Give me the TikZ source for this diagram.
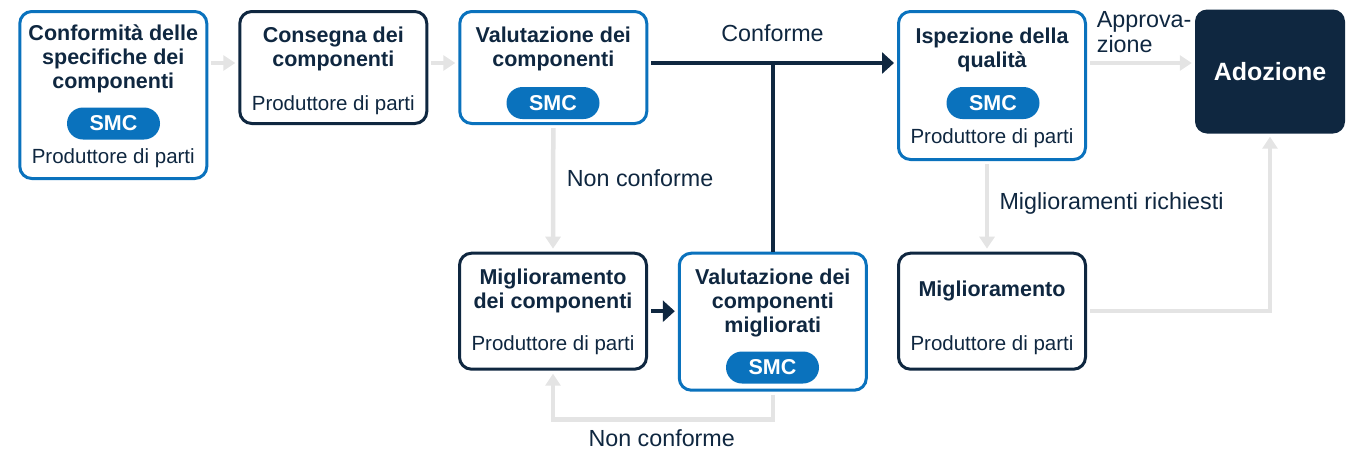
\documentclass[tikz,border=0pt]{standalone}
\usepackage{fontspec}
\setmainfont{Liberation Sans}
\usetikzlibrary{arrows.meta}

\definecolor{navy}{HTML}{0F2740}
\definecolor{smcblue}{HTML}{0A72BD}
\definecolor{lite}{HTML}{E4E4E4}

\tikzstyle{box} = [draw=navy, line width=3pt, rounded corners=12pt, minimum width=187pt, inner sep=0pt]
\tikzstyle{bluebox} = [box, draw=smcblue]
\tikzstyle{pill} = [fill=smcblue, rounded corners=16pt, minimum width=93pt, minimum height=32pt, inner sep=0pt, text=white, font=\bfseries\fontsize{21.5}{24}\selectfont]
\tikzstyle{ttl} = [align=center, inner sep=0pt, text=navy, font=\bfseries\fontsize{21.5}{24}\selectfont]
\tikzstyle{sub} = [inner sep=0pt, text=navy, font=\fontsize{20.5}{24}\selectfont]
\tikzstyle{lbl} = [inner sep=0pt, text=navy, font=\fontsize{23.3}{25}\selectfont]
\tikzstyle{litearr} = [draw=lite, line width=4.5pt, -{Triangle[width=15pt,length=12pt]}, shorten <=3pt, shorten >=3pt]
\tikzstyle{darkarr} = [draw=navy, line width=4.5pt, -{Triangle[width=21pt,length=12pt]}, shorten <=3pt, shorten >=3pt]

\begin{document}
\begin{tikzpicture}[x=1pt, y=-1pt]
		\useasboundingbox (0,0) rectangle (1346,451);
		\coordinate (row) at (0,63);

		\node[bluebox, minimum height=167pt] (b1) at (113.3,95) {};
		\node[box, minimum height=112pt] (b2) at (333.3,67.5) {};
		\node[bluebox, minimum height=112pt] (b3) at (553.3,67.5) {};
		\node[bluebox, minimum height=148pt] (b4) at (992,85.5) {};
		\node[fill=navy, rounded corners=12pt, minimum width=150pt, minimum height=124pt, text=white, font=\bfseries\fontsize{25}{28}\selectfont] (b5) at (1270,71.5) {Adozione};
		\node[box, minimum height=116pt] (b6) at (553,311.2) {};
		\node[bluebox, minimum height=137pt] (b7) at (772.8,321.7) {};
		\node[box, minimum height=116pt] (b8) at (992,311.2) {};

		\node[ttl] (t1) at (113.3,58.5) {Conformità delle\\specifiche dei\\componenti};
		\node[pill] (s1) at (113.5,123.5) {SMC};
		\node[sub] (p1) at (113.3,158) {Produttore di parti};
		\node[ttl] (t2) at (333.3,48.5) {Consegna dei\\componenti};
		\node[sub] (p2) at (333.3,105) {Produttore di parti};
		\node[ttl] (t3) at (553.3,48.5) {Valutazione dei\\componenti};
		\node[pill] (s3) at (553,103) {SMC};
		\node[ttl] (t4) at (992,49.5) {Ispezione della\\qualità};
		\node[pill] (s4) at (993,103) {SMC};
		\node[sub] (p4) at (992,138) {Produttore di parti};
		\node[ttl] (t6) at (553,290.5) {Miglioramento\\dei componenti};
		\node[sub] (p6) at (553,345) {Produttore di parti};
		\node[ttl] (t7) at (772.8,302.5) {Valutazione dei\\componenti\\migliorati};
		\node[pill] (s7) at (772.5,367.5) {SMC};
		\node[ttl] (t8) at (992,291) {Miglioramento};
		\node[sub] (p8) at (992,345) {Produttore di parti};

		\draw[litearr] (b1.east |- row) -- (b2.west |- row);
		\draw[litearr] (b2.east |- row) -- (b3.west |- row);
		\draw[darkarr] (b3.east |- row) -- (b4.west |- row);
		\draw[navy, line width=4.5pt] (b7.north) -- (b7.north |- row);
		\draw[litearr] (b3.south) -- (b6.north);
		\draw[darkarr] (b6.east) -- (b6.east -| b7.west);
		\draw[litearr] (b7.south) -- ++(0,28) -| (b6.south);
		\draw[litearr] (b4.east |- row) -- (b5.west |- row);
		\draw[litearr] ([xshift=-5pt]b4.south) -- ([xshift=-5pt]b8.north);
		\draw[litearr] (b8.east) -| (b5.south);

		\node[lbl] (c1) at (772.5,33.3) {Conforme};
		\node[lbl, anchor=west] (n1) at (566.7,178.3) {Non conforme};
		\node[lbl] (n2) at (661.7,438.2) {Non conforme};
		\node[lbl, anchor=west, align=left] (ap) at (1096.7,32.5) {Approva-\\zione};
		\node[lbl, anchor=west] (mr) at (999.3,203.3) {Miglioramenti richiesti};
\end{tikzpicture}
\end{document}
